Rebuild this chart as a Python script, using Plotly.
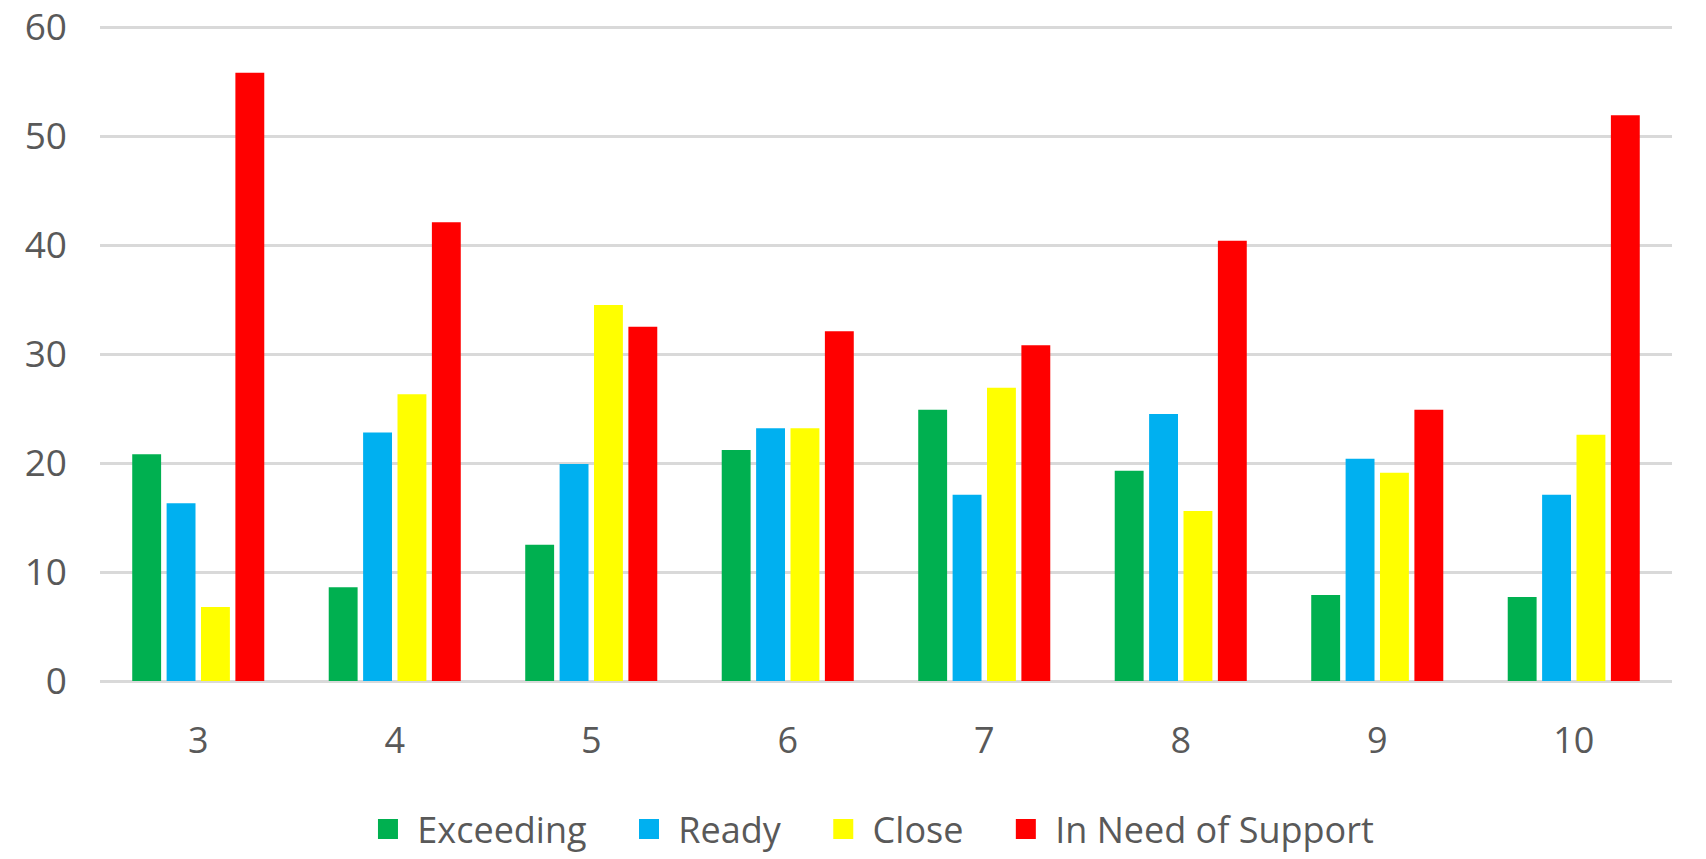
import plotly.graph_objects as go

grades = ["3", "4", "5", "6", "7", "8", "9", "10"]
exceeding = [20.8, 8.6, 12.5, 21.2, 24.9, 19.3, 7.9, 7.7]
ready = [16.3, 22.8, 19.9, 23.2, 17.1, 24.5, 20.4, 17.1]
close = [6.8, 26.3, 34.5, 23.2, 26.9, 15.6, 19.1, 22.6]
need_support = [55.8, 42.1, 32.5, 32.1, 30.8, 40.4, 24.9, 51.9]

series = [
    ("Exceeding", exceeding, "#00B050"),
    ("Ready", ready, "#00B0F0"),
    ("Close", close, "#FFFF00"),
    ("In Need of Support", need_support, "#FF0000"),
]

NBSP = "\u00a0"

fig = go.Figure()
for name, vals, color in series:
    fig.add_trace(go.Bar(x=grades, y=vals, name=name, marker_color=color,
                         marker_line_width=0, showlegend=False))

# legend entries with larger square swatches and wider spacing
for i, (name, vals, color) in enumerate(series):
    pad = NBSP * 4 if i < len(series) - 1 else ""
    fig.add_trace(go.Scatter(x=[None], y=[None], mode="markers",
                             name=NBSP + name + pad,
                             marker=dict(symbol="square", size=16, color=color,
                                         line=dict(color=color, width=4)),
                             showlegend=True))

fig.update_layout(
    width=1706, height=859,
    barmode="group", bargap=0.3, bargroupgap=0.16,
    plot_bgcolor="white", paper_bgcolor="white",
    margin=dict(l=100, r=34, t=26, b=178, autoexpand=False),
    font=dict(family="Open Sans, Noto Sans, sans-serif", color="#595959", size=36),
    legend=dict(orientation="h", x=0.512, xanchor="center", xref="container",
                y=0.0, yanchor="bottom", yref="container",
                font=dict(size=36), itemwidth=30, traceorder="normal",
                tracegroupgap=0),
    showlegend=True,
)
fig.update_yaxes(range=[0, 60.1], dtick=10, showgrid=True, gridcolor="#D9D9D9",
                 gridwidth=2.5, zeroline=True, zerolinecolor="#D9D9D9",
                 zerolinewidth=2.5, showline=False, ticks="", ticklabelstandoff=32,
                 tickfont=dict(size=37))
fig.update_xaxes(showgrid=False, showline=False, ticks="", tickfont=dict(size=36),
                 ticklabelstandoff=35)

fig.write_html("out.html")
